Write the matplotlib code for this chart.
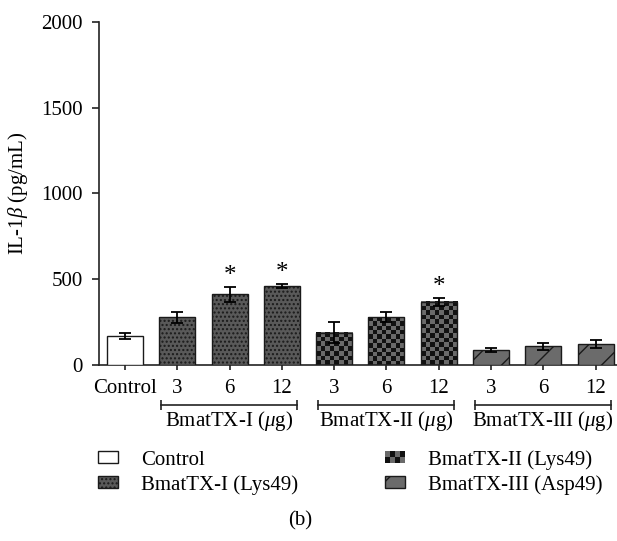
"""IL-1beta release after BmatTX-I/II/III treatment, panel (b)."""

import numpy as np
import matplotlib
matplotlib.use("Agg")
import matplotlib.pyplot as plt
import matplotlib.transforms as mtransforms
from matplotlib.colors import ListedColormap
from matplotlib.patches import Patch, Rectangle
from matplotlib.legend_handler import HandlerBase

# data
categories = ["Control", "3", "6", "12", "3", "6", "12", "3", "6", "12"]
toxin = ["Control", "I", "I", "I", "II", "II", "II", "III", "III", "III"]
il1b = [167, 276, 411, 459, 187, 280, 368, 86, 107, 121]
sem = [16, 30, 44, 12, 62, 29, 23, 11, 20, 21]
significant = [False, False, True, True, False, False, True, False, False, False]
group_labels = [r"BmatTX-I ($\mu$g)", r"BmatTX-II ($\mu$g)", r"BmatTX-III ($\mu$g)"]
group_members = [[1, 2, 3], [4, 5, 6], [7, 8, 9]]
legend_labels = ["Control", "BmatTX-I (Lys49)", "BmatTX-II (Lys49)", "BmatTX-III (Asp49)"]

plt.rcParams["font.family"] = ["Liberation Serif", "DejaVu Serif"]
plt.rcParams["mathtext.fontset"] = "custom"
plt.rcParams["mathtext.rm"] = "Liberation Serif"
plt.rcParams["mathtext.it"] = "Liberation Serif:italic"
plt.rcParams["hatch.linewidth"] = 1.0

FS = 15
EDGE = "#1a1a1a"
CHECK_DARK = "#111111"
CHECK_LIGHT = "#6a6a6a"
checker_cmap = ListedColormap([CHECK_DARK, CHECK_LIGHT])

fig = plt.figure(figsize=(6.17, 5.41), dpi=100)
ax = fig.add_axes([99 / 617, 1 - 364.7 / 541, 518 / 617, 342.8 / 541])

x = np.arange(len(categories))
width = 0.69
xlim = (-0.497, 9.41)
ax.set_xlim(*xlim)
ax.set_ylim(0, 2000)

px_x = ax.bbox.width / (xlim[1] - xlim[0])
px_y = ax.bbox.height / 2000.0
square = 4.5

for i, (xi, val, tx) in enumerate(zip(x, il1b, toxin)):
    if tx == "Control":
        ax.bar(xi, val, width, facecolor="white", edgecolor=EDGE, linewidth=1.0, zorder=3)
    elif tx == "I":
        ax.bar(xi, val, width, facecolor="#595959", edgecolor=EDGE, linewidth=1.0,
               hatch="....", zorder=3)
    elif tx == "II":
        nx = max(1, int(round(width * px_x / square)))
        ny = max(1, int(round(val * px_y / square)))
        board = np.add.outer(np.arange(ny), np.arange(nx)) % 2
        ax.imshow(board, cmap=checker_cmap, extent=[xi - width / 2, xi + width / 2, 0, val],
                  origin="lower", interpolation="nearest", aspect="auto", zorder=2)
        ax.bar(xi, val, width, facecolor="none", edgecolor=EDGE, linewidth=1.0, zorder=3)
    else:
        ax.bar(xi, val, width, facecolor="#6b6b6b", edgecolor=EDGE, linewidth=1.0,
               hatch="/", zorder=3)

ax.set_xlim(*xlim)
ax.set_ylim(0, 2000)

ax.errorbar(x, il1b, yerr=sem, fmt="none", ecolor="black", elinewidth=1.3,
            capsize=4.3, capthick=1.3, zorder=4)

for xi, val, err, sig in zip(x, il1b, sem, significant):
    if sig:
        ax.annotate("*", (xi, val + err), xytext=(0, 0), textcoords="offset points",
                    ha="center", va="bottom", fontsize=18)

# axes styling
for side in ["top", "right"]:
    ax.spines[side].set_visible(False)
for side in ["left", "bottom"]:
    ax.spines[side].set_linewidth(1.2)
    ax.spines[side].set_color("#222222")

ax.set_yticks([0, 500, 1000, 1500, 2000])
ax.tick_params(axis="y", direction="out", length=5, width=1.2, color="#222222",
               pad=6.5, labelsize=FS)
ax.set_xticks(x)
ax.set_xticklabels(categories)
ax.tick_params(axis="x", direction="out", length=3.8, width=1.2, color="#222222",
               pad=6.5, labelsize=FS)

# group brackets under the dose labels
trans = mtransforms.blended_transform_factory(ax.transData, ax.transAxes)
for label, members in zip(group_labels, group_members):
    x0 = x[members[0]] - 0.31
    x1 = x[members[-1]] + 0.29
    ax.plot([x0, x1], [-0.1176, -0.1176], color="#222222", lw=1.2,
            transform=trans, clip_on=False)
    ax.plot([x0, x1], [-0.1176, -0.1176], ls="none", marker="|", ms=7, mew=1.2,
            color="#222222", transform=trans, clip_on=False)
    ax.text((x0 + x1) / 2, -0.163, label, transform=trans, ha="center", va="center",
            fontsize=FS)

fig.text(18 / 617, 1 - 193 / 541, r"IL-1$\beta$ (pg/mL)", rotation=90,
         ha="center", va="center", fontsize=FS)


class CheckerHandler(HandlerBase):
    def create_artists(self, legend, orig_handle, xdescent, ydescent, width, height,
                       fontsize, trans):
        arts = []
        nx, ny = 4, 2
        for r in range(ny):
            for c in range(nx):
                col = CHECK_DARK if (r + c) % 2 == 0 else CHECK_LIGHT
                arts.append(Rectangle((-xdescent + c * width / nx, -ydescent + r * height / ny),
                                      width / nx, height / ny, facecolor=col,
                                      edgecolor="none", transform=trans))
        return arts


h_control = Patch(facecolor="white", edgecolor=EDGE, linewidth=1.0)
h_one = Patch(facecolor="#595959", edgecolor=EDGE, linewidth=1.0, hatch="....")
h_two = Patch(facecolor=CHECK_LIGHT, edgecolor=EDGE)
h_three = Patch(facecolor="#6b6b6b", edgecolor=EDGE, linewidth=1.0, hatch="/")

fig.legend([h_control, h_one, h_two, h_three], legend_labels, loc="upper left",
           bbox_to_anchor=(98 / 617, 1 - 450 / 541), ncol=2, frameon=False, fontsize=FS,
           handlelength=0.95, handleheight=0.5, handletextpad=1.1, columnspacing=4.2,
           labelspacing=0.25, borderpad=0, borderaxespad=0,
           handler_map={h_two: CheckerHandler()})

fig.text(300 / 617, 1 - 521 / 541, "(b)", ha="center", va="center", fontsize=FS)

fig.savefig("out.png", dpi=100)
